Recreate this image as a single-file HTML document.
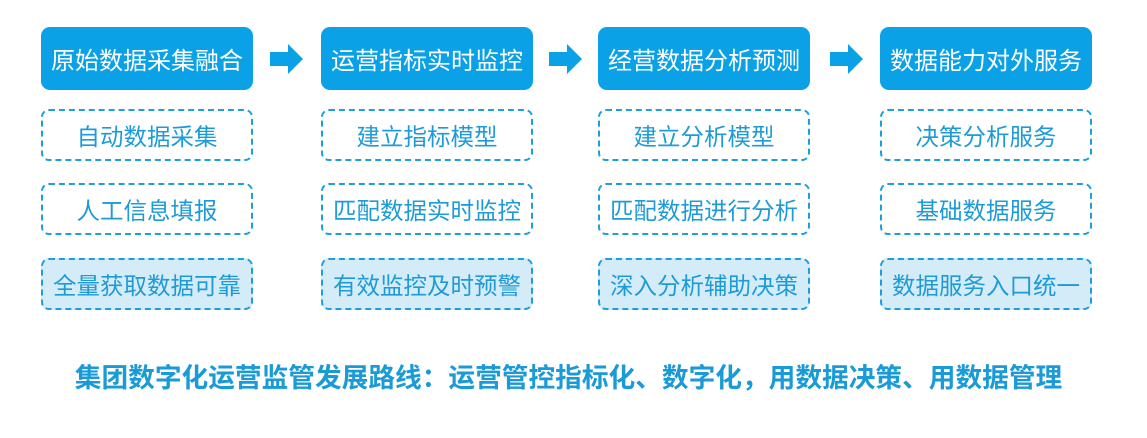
<!DOCTYPE html>
<html><head><meta charset="utf-8"><style>
body{margin:0;width:1147px;height:438px;background:#fff;position:relative;overflow:hidden;font-family:"Liberation Sans","Noto Sans CJK SC",sans-serif;}
.h{position:absolute;top:27px;width:212px;height:63px;background:#0BA1E6;border-radius:9px;color:#fff;font-size:24px;display:flex;align-items:center;justify-content:center;}
.d{position:absolute;width:208px;height:48px;border:2.5px dashed #1E9FDC;border-radius:8px;color:#1E9BD7;font-size:23.5px;display:flex;align-items:center;justify-content:center;white-space:nowrap;}
.f{background:#D4EBF8;}
.a{position:absolute;top:44px;}
.t{position:absolute;top:356px;left:0;width:1137px;text-align:center;font-size:26.7px;font-weight:bold;color:#1A9AD6;white-space:nowrap;}
</style></head><body>
<div class="h" style="left:41px">原始数据采集融合</div>
<div class="h" style="left:321px">运营指标实时监控</div>
<div class="h" style="left:598px">经营数据分析预测</div>
<div class="h" style="left:880px">数据能力对外服务</div>
<svg class="a" style="left:270px" width="34" height="30"><polygon points="0,8 18,8 18,0 33,15 18,30 18,22 0,22" fill="#0BA1E6"/></svg>
<svg class="a" style="left:549px" width="34" height="30"><polygon points="0,8 18,8 18,0 33,15 18,30 18,22 0,22" fill="#0BA1E6"/></svg>
<svg class="a" style="left:830px" width="34" height="30"><polygon points="0,8 18,8 18,0 33,15 18,30 18,22 0,22" fill="#0BA1E6"/></svg>

<div class="d" style="left:41px;top:109px">自动数据采集</div>
<div class="d" style="left:41px;top:183px">人工信息填报</div>
<div class="d f" style="left:41px;top:258px">全量获取数据可靠</div>

<div class="d" style="left:321px;top:109px">建立指标模型</div>
<div class="d" style="left:321px;top:183px">匹配数据实时监控</div>
<div class="d f" style="left:321px;top:258px">有效监控及时预警</div>

<div class="d" style="left:598px;top:109px">建立分析模型</div>
<div class="d" style="left:598px;top:183px">匹配数据进行分析</div>
<div class="d f" style="left:598px;top:258px">深入分析辅助决策</div>

<div class="d" style="left:880px;top:109px">决策分析服务</div>
<div class="d" style="left:880px;top:183px">基础数据服务</div>
<div class="d f" style="left:880px;top:258px">数据服务入口统一</div>

<div class="t">集团数字化运营监管发展路线：运营管控指标化、数字化，用数据决策、用数据管理</div>
</body></html>
